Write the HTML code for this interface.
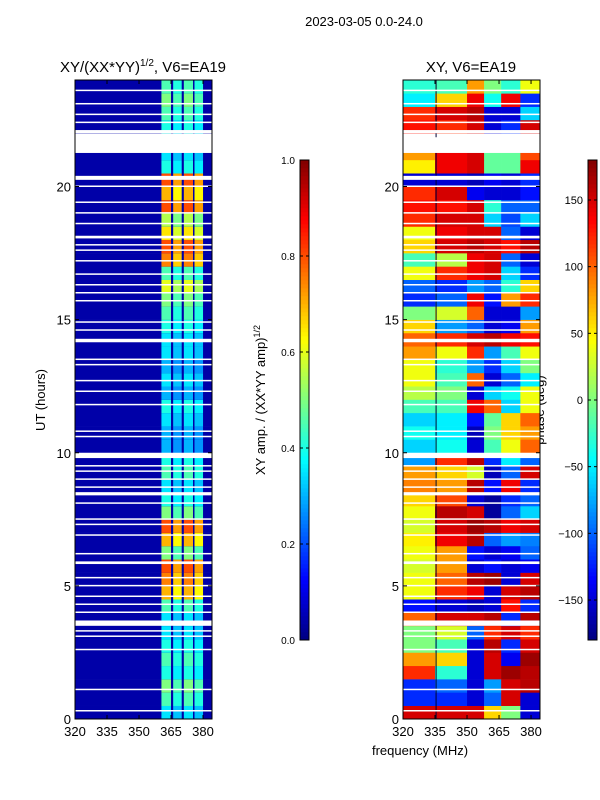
<!DOCTYPE html>
<html><head><meta charset="utf-8"><style>
body{margin:0;background:#fff;}
svg{display:block;font-family:"Liberation Sans","DejaVu Sans",sans-serif;}
</style></head><body>
<svg id="c" width="600" height="800">
<text x="364" y="26" font-size="13" text-anchor="middle">2023-03-05 0.0-24.0</text>
<text x="143" y="72" font-size="15" text-anchor="middle">XY/(XX*YY)<tspan font-size="10" dy="-6">1/2</tspan><tspan dy="6">, V6=EA19</tspan></text>
<text x="471" y="72" font-size="15" text-anchor="middle">XY, V6=EA19</text>
<text transform="translate(45,400) rotate(-90)" font-size="13" text-anchor="middle">UT (hours)</text>
<text transform="translate(265,400) rotate(-90)" font-size="13" text-anchor="middle">XY amp. / (XX*YY amp)<tspan font-size="9" dy="-5">1/2</tspan></text>
<text transform="translate(544,410) rotate(-90)" font-size="13" text-anchor="middle">phase (deg)</text>
<text x="420" y="755" font-size="13" text-anchor="middle">frequency (MHz)</text>
<g id="g"></g>
</svg>
<script>
const hourEdges=[0,0.5,1,1.5,2,2.5,3,3.5,4,4.5,5,5.5,6,6.5,7,7.5,8,8.5,9,9.5,10,10.5,11,11.5,12,12.5,13,13.5,14,14.5,15,15.5,16,16.5,17,17.5,18,18.5,19,19.5,20,20.5,21,21.5,22,22.5,23,23.5,24];
const ampLevel=[0.35,0.45,0.5,0.4,0.45,0.4,0.35,0.35,0.45,0.7,0.75,0.8,0.5,0.7,0.8,0.5,0.4,0.35,0.45,0.4,0.3,0.3,0.35,0.4,0.3,0.35,0.3,0.35,0.35,0.4,0.45,0.5,0.6,0.45,0.75,0.8,0.65,0.55,0.8,0.7,0.8,0.4,0.35,null,0.4,0.45,0.5,0.45];
const stripeLo=[360.5,366,371,376];
const stripeHi=[365,370,375.3,380];
const stripeFactor=[1.0,0.9,1.0,0.9];
const phaseEdges=[320,335,350,358,366,375,384.2];
const phase=[
[150,150,150,60,0,-150],[-120,-120,-150,-100,150,-150],[-120,-100,-150,-80,150,160],[120,-30,-150,150,170,160],
[80,60,-150,150,-140,170],[0,-20,-150,160,-120,150],[0,30,-100,120,150,120],[100,150,150,160,-120,160],
[-130,-150,-160,-150,130,-120],[40,120,140,-150,150,160],[40,100,160,170,-150,150],[30,80,-150,-130,-150,-140],
[40,80,-130,-150,-140,-100],[50,140,160,-100,-80,-90],[30,150,170,160,140,150],[40,160,150,-170,-100,-60],
[60,110,-150,-170,-120,-100],[90,80,160,-130,140,-120],[80,60,30,-160,-100,150],[-80,120,160,-120,-50,-100],
[-60,-40,-150,-20,40,100],[-40,-50,-160,0,60,80],[-60,-50,-130,-10,60,100],[-20,-20,140,100,-60,40],
[20,0,-150,-60,-40,40],[40,-20,100,-150,-100,-50],[40,-30,-80,-120,-60,0],[80,40,120,-80,-20,40],
[100,120,150,160,140,130],[60,-80,-100,-150,-140,80],[0,30,100,-150,-150,-80],[-120,-100,140,-130,80,120],
[-100,-120,-80,-100,-30,60],[40,120,140,150,-60,-120],[-20,20,140,150,-100,-150],[60,150,160,150,130,160],
[40,140,150,150,-100,-150],[120,150,150,-60,-110,-60],[130,130,150,-30,-100,-100],[120,150,-140,-150,-150,-130],
[-150,-150,-160,-140,-150,-120],[50,140,150,-10,-10,140],[80,140,150,-10,-10,110],null,
[130,120,150,-150,-120,150],[120,150,160,-150,-150,-60],[-50,60,140,-40,140,-120],[-30,-20,80,0,-30,40]];
const gapStart=[21.26,22.0,20.25,18.05,14.15,9.8,8.4,5.82,3.5];
const gapEnd=[21.85,22.12,20.4,18.15,14.28,10.0,8.52,5.92,3.7];
const thinGaps=[0.3,1.1,2.6,3.1,3.3,4.0,4.3,4.6,5.0,5.3,6.2,6.9,7.3,7.5,8.1,8.7,9.0,9.3,9.5,10.6,10.8,11.8,12.3,12.7,13.3,13.5,14.6,14.9,15.7,16.0,16.3,16.7,17.2,17.6,17.8,18.6,19.0,19.4,20.0,22.4,22.7,23.1,23.6];
const xTicks=[320,335,350,365,380];
const yTicks=[0,5,10,15,20];
const ampTicks=[0.0,0.2,0.4,0.6,0.8,1.0];
const phaseTicks=[-150,-100,-50,0,50,100,150];

const NS="http://www.w3.org/2000/svg";
const g=document.getElementById('g');
function jet(v){v=Math.max(0,Math.min(1,v));
 const r=Math.max(0,Math.min(1,1.5-Math.abs(4*v-3))),gg=Math.max(0,Math.min(1,1.5-Math.abs(4*v-2))),b=Math.max(0,Math.min(1,1.5-Math.abs(4*v-1)));
 return `rgb(${Math.round(r*255)},${Math.round(gg*255)},${Math.round(b*255)})`;}
function el(t,a,p){const e=document.createElementNS(NS,t);for(const k in a)e.setAttribute(k,a[k]);(p||g).appendChild(e);return e;}
const Y0=719,Y1=80;
function yS(h){return Y0-(h/24)*(Y0-Y1);}
function xL(f){return 75+(f-320)*(212-75)/64.2;}
function xR(f){return 403+(f-320)*(540-403)/64.2;}

for(let i=0;i<ampLevel.length;i++){
 if(ampLevel[i]===null)continue;
 const y=yS(hourEdges[i+1]),h=yS(hourEdges[i])-y;
 const r=el('rect',{x:75,y:y,width:137,height:h+0.3,fill:jet(0.04)});
 
 
 for(let s=0;s<stripeLo.length;s++){
  const c=el('rect',{x:xL(stripeLo[s]),y:y,width:xL(stripeHi[s])-xL(stripeLo[s]),height:h+0.3,fill:jet(ampLevel[i]*stripeFactor[s])});
  
  
 }
}
for(let i=0;i<phase.length;i++){
 if(phase[i]===null)continue;
 const y=yS(hourEdges[i+1]),h=yS(hourEdges[i])-y;
 for(let j=0;j<phase[i].length;j++){
  const c=el('rect',{x:xR(phaseEdges[j]),y:y,width:xR(phaseEdges[j+1])-xR(phaseEdges[j])+0.3,height:h+0.3,fill:jet((phase[i][j]+180)/360)});
  
  
 }
}
el('line',{x1:xR(335.5),x2:xR(335.5),y1:80,y2:719,stroke:'#003',"stroke-width":1});
[[75,137],[403,137]].forEach(([x0,w])=>{
 for(let k=0;k<gapStart.length;k++){
  const y=yS(gapEnd[k]);
  const r=el('rect',{x:x0,y:y,width:w,height:yS(gapStart[k])-y,fill:'#fff'});
  
  
 }
 for(let k=0;k<thinGaps.length;k++){
  const r=el('rect',{x:x0,y:yS(thinGaps[k])-1,width:w,height:1.5,fill:'#fff'});
  
  
 }
});
[[75,xL,'left'],[403,xR,'right']].forEach(([x0,fx,nm])=>{
 const f=el('rect',{x:x0,y:80,width:137,height:639,fill:'none',stroke:'#000'});
 
 
 xTicks.forEach(t=>{const x=fx(t);
  el('line',{x1:x,x2:x,y1:719,y2:715,stroke:'#000'});el('line',{x1:x,x2:x,y1:80,y2:84,stroke:'#000'});
  const tx=el('text',{x:x,y:736,"font-size":13,"text-anchor":"middle"});tx.textContent=t;
  
  });
 yTicks.forEach(t=>{const y=yS(t);
  el('line',{x1:x0,x2:x0+4,y1:y,y2:y,stroke:'#000'});el('line',{x1:x0+137,x2:x0+133,y1:y,y2:y,stroke:'#000'});
  const tx=el('text',{x:x0-4,y:y+5,"font-size":13,"text-anchor":"end"});tx.textContent=t;
  
  });
});
function cbar(x,ticks,lo,hi,nm,fmt){
 for(let i=0;i<120;i++){const v=i/120;
  el('rect',{x:x,y:640-(i+1)*4,width:9,height:4.3,fill:jet(v+1/240)});}
 const f=el('rect',{x:x,y:160,width:9,height:480,fill:'none',stroke:'#000'});
 
 
 ticks.forEach(t=>{const y=640-(t-lo)/(hi-lo)*480;
  el('line',{x1:x,x2:x+3,y1:y,y2:y,stroke:'#000'});el('line',{x1:x+9,x2:x+6,y1:y,y2:y,stroke:'#000'});
  const tx=el('text',{x:x-5,y:y+4,"font-size":fmt?10:11,"text-anchor":"end"});
  tx.textContent=fmt?t.toFixed(1):(t<0?'\u2212'+(-t):t);
  
  });
}
cbar(300,ampTicks,0,1,'amp-colorbar',true);
cbar(588,phaseTicks,-180,180,'phase-colorbar',false);
</script>
</body></html>
